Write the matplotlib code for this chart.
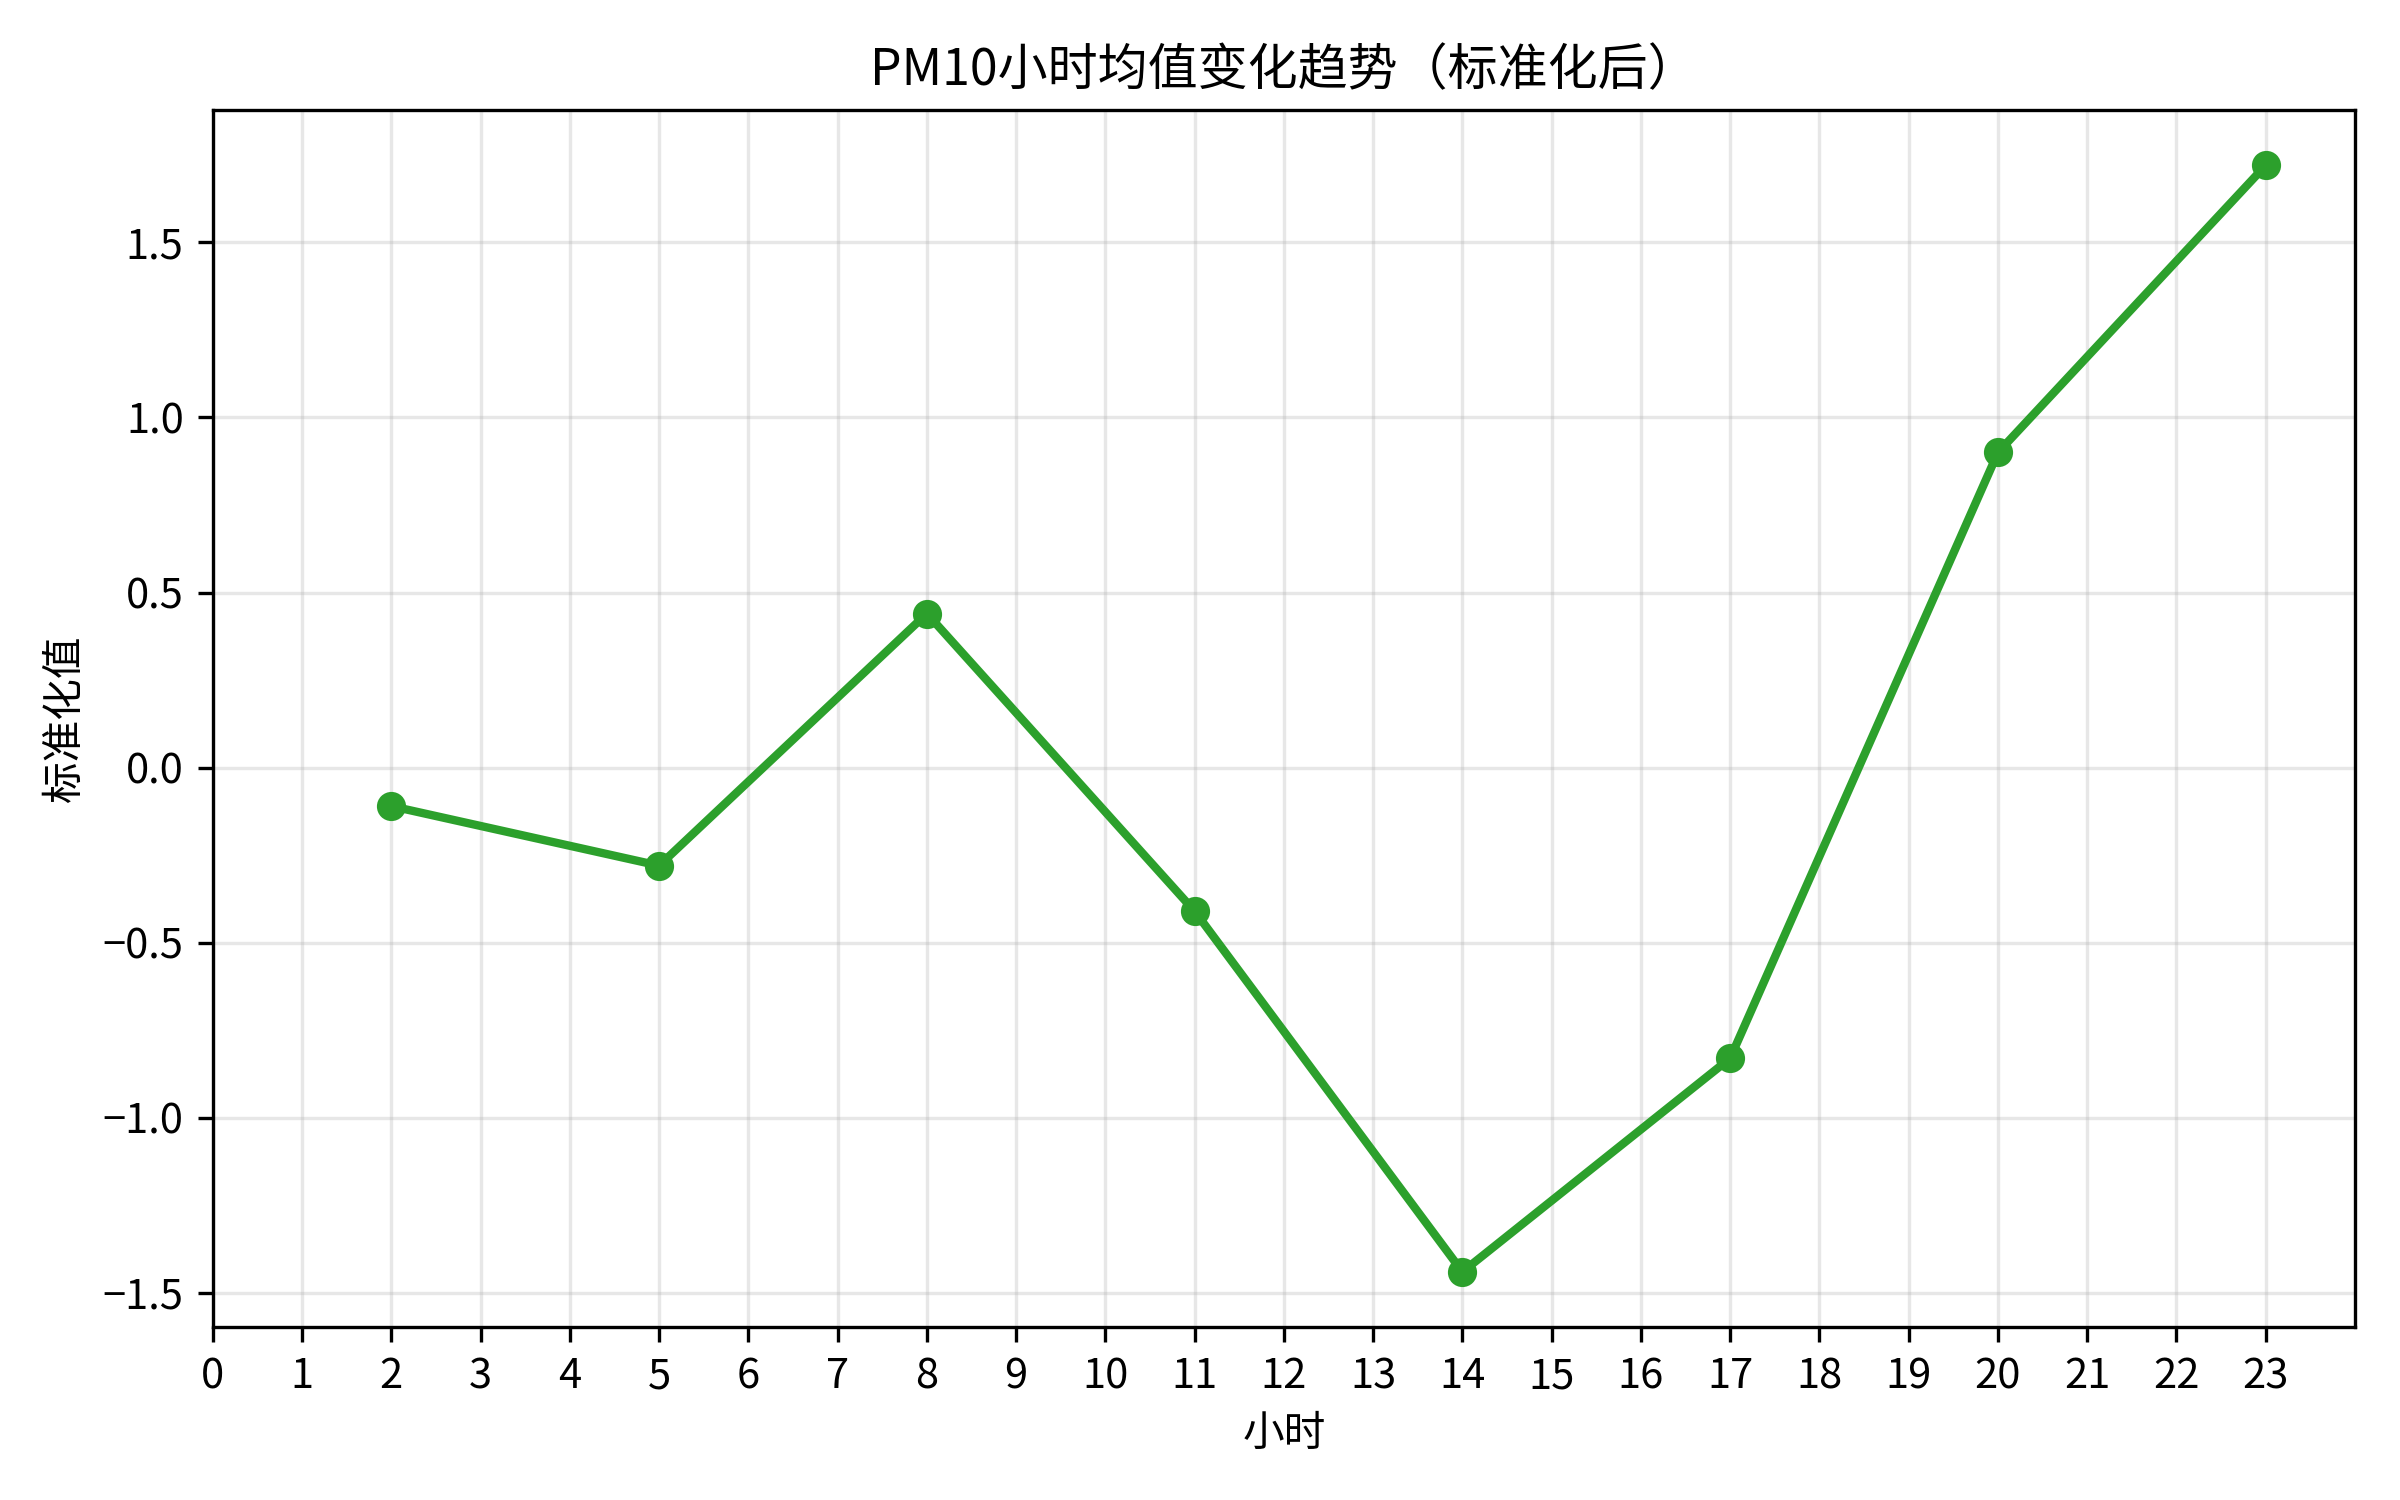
"""PM10 hourly mean trend (standardised)."""

import matplotlib
matplotlib.use("Agg")
import matplotlib.pyplot as plt

plt.rcParams["font.family"] = ["Noto Sans CJK SC", "DejaVu Sans"]
plt.rcParams["axes.unicode_minus"] = True

# ── Data ────────────────────────────────────────────────────────────────────
hours = [2, 5, 8, 11, 14, 17, 20, 23]
pm10_std = [-0.11, -0.28, 0.44, -0.41, -1.44, -0.83, 0.90, 1.72]
xticks = list(range(24))

# ── Plot ────────────────────────────────────────────────────────────────────
fig, ax = plt.subplots(figsize=(8, 5), dpi=300)
ax.plot(hours, pm10_std, marker="o", color="#2ca02c", linewidth=2, markersize=6)

ax.set_title("PM10小时均值变化趋势（标准化后）", fontsize=12)
ax.set_xlabel("小时")
ax.set_ylabel("标准化值")
ax.set_xticks(xticks)
ax.set_xlim(0, 24)
ax.grid(True, alpha=0.3)

fig.tight_layout()
fig.savefig("out.png")
